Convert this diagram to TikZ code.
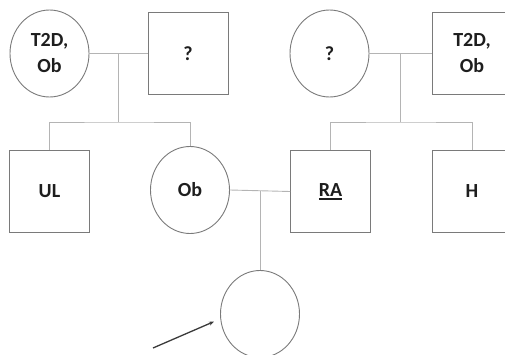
\documentclass[tikz,border=0pt]{standalone}
\usepackage{fontspec}
\setmainfont{Carlito}
\usetikzlibrary{shapes.geometric,arrows.meta,calc}

\definecolor{shapegray}{HTML}{7A7A7A}
\definecolor{linegray}{HTML}{B4B4B4}
\definecolor{pointergray}{HTML}{3A3A3A}
\definecolor{labelink}{HTML}{1E1E1E}

% underlined label with a heavier rule
\newcommand{\probandlabel}[1]{\setbox0\hbox{#1}\rlap{\copy0}\raisebox{-3.2pt}{\rule{\wd0}{1.6pt}}}

\begin{document}
\begin{tikzpicture}[x=1pt,y=-1pt,
  person/.style={draw=shapegray, line width=0.9pt, text=labelink,
    font=\fontsize{20}{26}\selectfont\bfseries, align=center, inner sep=0pt},
  female/.style={person, ellipse, minimum width=79pt, minimum height=87pt},
  male/.style={person, rectangle, minimum width=80pt, minimum height=82pt},
  link/.style={draw=linegray, line width=0.9pt},
  pointer/.style={draw=pointergray, line width=1.3pt,
    -{Stealth[length=5pt,width=4pt]}, shorten >=7pt}]

\useasboundingbox (0,0) rectangle (505,355);
\clip (0,0) rectangle (505,355);

% first generation
\node[female] (gmA) at (49.5,53.5) {T2D,\\Ob};
\node[male]   (gfA) at (188,53.5)  {?};
\node[female] (gmB) at (329.5,53.5) {?};
\node[male]   (gfB) at (472,53.5)  {T2D,\\Ob};

% second generation
\node[male]   (ul) at (49.5,191.5) {UL};
\node[female] (ob) at (190,190)    {Ob};
\node[male]   (ra) at (330.5,191.5) {\probandlabel{RA}};
\node[male]   (h)  at (472,191.5)  {H};

% third generation
\node[female] (child) at (260,314) {};

% marriage lines and sibships
\coordinate (mA) at ($(gmA.east)!0.5!(gfA.west)$);
\coordinate (sA) at (mA |- 0,122);
\draw[link] (gmA.east) -- (gfA.west);
\draw[link] (mA) -- (sA);
\draw[link] (ul.north) |- (sA) -| (ob.north);

\coordinate (mB) at ($(gmB.east)!0.5!(gfB.west)$);
\coordinate (sB) at (mB |- 0,122);
\draw[link] (gmB.east) -- (gfB.west);
\draw[link] (mB) -- (sB);
\draw[link] (ra.north) |- (sB) -| (h.north);

\coordinate (mC) at ($(ob.east)!0.5!(ra.west)$);
\draw[link] (ob.east) -- (ra.west);
\draw[link] (mC) -- (mC |- child.north);

% proband arrow
\coordinate (tail) at (153,348);
\draw[pointer] (tail) -- (child.187);
\end{tikzpicture}
\end{document}
